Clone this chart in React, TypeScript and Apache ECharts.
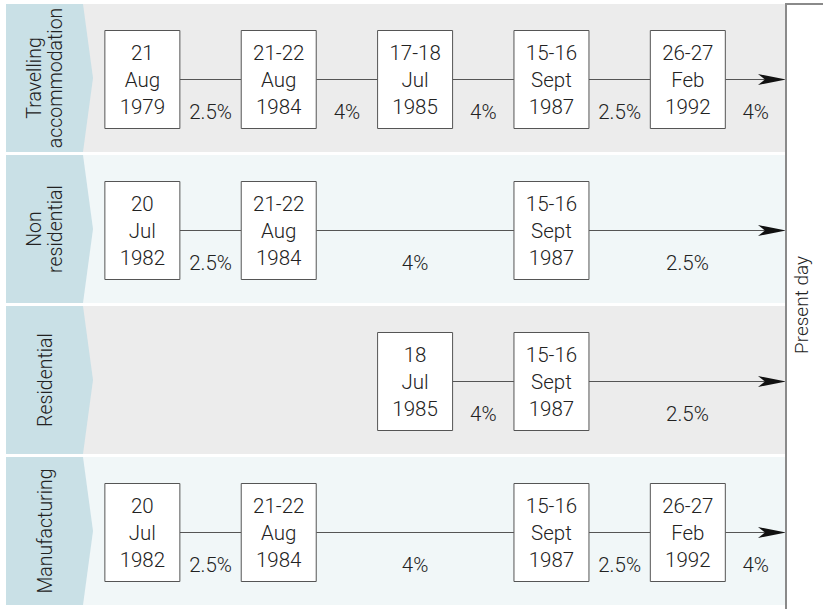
import React, { useEffect, useRef } from "react";
import * as echarts from "echarts";

const rowLabels = ["Travelling\naccommodation", "Non\nresidential", "Residential", "Manufacturing"];

const travellingCols = [0, 1, 2, 3, 4];
const travellingDates = ["21\nAug\n1979", "21-22\nAug\n1984", "17-18\nJul\n1985", "15-16\nSept\n1987", "26-27\nFeb\n1992"];
const travellingRates = ["2.5%", "4%", "4%", "2.5%", "4%"];

const nonResidentialCols = [0, 1, 3];
const nonResidentialDates = ["20\nJul\n1982", "21-22\nAug\n1984", "15-16\nSept\n1987"];
const nonResidentialRates = ["2.5%", "4%", "2.5%"];

const residentialCols = [2, 3];
const residentialDates = ["18\nJul\n1985", "15-16\nSept\n1987"];
const residentialRates = ["4%", "2.5%"];

const manufacturingCols = [0, 1, 3, 4];
const manufacturingDates = ["20\nJul\n1982", "21-22\nAug\n1984", "15-16\nSept\n1987", "26-27\nFeb\n1992"];
const manufacturingRates = ["2.5%", "4%", "2.5%", "4%"];

const presentDayLabel = "Present day";

const X_MIN = -1;
const X_MAX = 4.72;
const FONT = "Roboto, Liberation Sans, Arial, sans-serif";
const TEXT_COLOR = "#222222";

const rowsDef = [
  { cols: travellingCols, dates: travellingDates, rates: travellingRates },
  { cols: nonResidentialCols, dates: nonResidentialDates, rates: nonResidentialRates },
  { cols: residentialCols, dates: residentialDates, rates: residentialRates },
  { cols: manufacturingCols, dates: manufacturingDates, rates: manufacturingRates },
];

const boxItems: { col: number; row: number; label: string }[] = [];
const segItems: { from: number; to: number; row: number; rate: string; end: boolean }[] = [];
rowsDef.forEach((r, ri) => {
  r.cols.forEach((c, k) => {
    boxItems.push({ col: c, row: ri, label: r.dates[k] });
    const isEnd = k === r.cols.length - 1;
    segItems.push({ from: c, to: isEnd ? X_MAX : r.cols[k + 1], row: ri, rate: r.rates[k], end: isEnd });
  });
});

const BOX_W = 75;
const BOX_H = 98;

export default function App() {
  const ref = useRef<HTMLDivElement>(null);
  useEffect(() => {
    document.body.style.margin = "0";
    if (!ref.current) return;
    const chart = echarts.init(ref.current, undefined, { renderer: "svg" });
    const option: any = {
      animation: false,
      backgroundColor: "#ffffff",
      grid: { left: 6, right: 37, top: 4, bottom: 1 },
      xAxis: { type: "value", min: X_MIN, max: X_MAX, show: false },
      yAxis: { type: "value", min: 0, max: 4, inverse: true, show: false },
      series: [
        {
          type: "custom",
          silent: true,
          data: rowLabels.map((_, i) => [X_MIN, i]),
          renderItem: (params: any, api: any) => {
            const i = api.value(1);
            const top = api.coord([X_MIN, i])[1];
            const bottom = api.coord([X_MIN, i + 1])[1] - 3;
            const left = api.coord([X_MIN, i])[0];
            const right = api.coord([X_MAX, i])[0];
            const mid = (top + bottom) / 2;
            return {
              type: "group",
              children: [
                {
                  type: "rect",
                  shape: { x: left, y: top, width: right - left, height: bottom - top },
                  style: { fill: i % 2 === 0 ? "#ececec" : "#f1f7f8" },
                },
                {
                  type: "polygon",
                  shape: {
                    points: [
                      [left, top],
                      [left + 77, top],
                      [left + 87, mid],
                      [left + 77, bottom],
                      [left, bottom],
                    ],
                  },
                  style: { fill: "#c9e0e6" },
                },
                {
                  type: "text",
                  x: left + 39,
                  y: mid,
                  rotation: Math.PI / 2,
                  style: {
                    text: rowLabels[params.dataIndex],
                    fill: TEXT_COLOR,
                    font: "300 19.5px " + FONT,
                    align: "center",
                    verticalAlign: "middle",
                    lineHeight: 21,
                  },
                },
              ],
            };
          },
        },
        {
          type: "custom",
          silent: true,
          data: segItems.map((s) => [s.from, s.row, s.to]),
          renderItem: (params: any, api: any) => {
            const s = segItems[params.dataIndex];
            const p1 = api.coord([api.value(0), api.value(1) + 0.5]);
            const p2 = api.coord([api.value(2), api.value(1) + 0.5]);
            const cy = p1[1];
            const x1 = p1[0] + BOX_W / 2;
            const x2 = s.end ? p2[0] : p2[0] - BOX_W / 2;
            const children: any[] = [
              {
                type: "line",
                shape: { x1, y1: cy, x2: s.end ? x2 - 20 : x2, y2: cy },
                style: { stroke: "#555555", lineWidth: 1 },
              },
              {
                type: "text",
                x: (x1 + x2) / 2,
                y: cy + 32,
                style: {
                  text: s.rate,
                  fill: TEXT_COLOR,
                  font: "300 20.5px " + FONT,
                  align: "center",
                  verticalAlign: "middle",
                },
              },
            ];
            if (s.end) {
              children.push({
                type: "polygon",
                shape: {
                  points: [
                    [x2, cy],
                    [x2 - 28, cy - 5.5],
                    [x2 - 21, cy],
                    [x2 - 28, cy + 5.5],
                  ],
                },
                style: { fill: "#111111" },
              });
            }
            return { type: "group", children };
          },
        },
        {
          type: "custom",
          silent: true,
          data: boxItems.map((b) => [b.col, b.row]),
          renderItem: (params: any, api: any) => {
            const b = boxItems[params.dataIndex];
            const p = api.coord([api.value(0), api.value(1) + 0.5]);
            return {
              type: "group",
              children: [
                {
                  type: "rect",
                  shape: { x: p[0] - BOX_W / 2, y: p[1] - BOX_H / 2, width: BOX_W, height: BOX_H },
                  style: { fill: "#ffffff", stroke: "#555555", lineWidth: 1 },
                },
                {
                  type: "text",
                  x: p[0],
                  y: p[1],
                  style: {
                    text: b.label,
                    fill: TEXT_COLOR,
                    font: "300 20.5px " + FONT,
                    align: "center",
                    verticalAlign: "middle",
                    lineHeight: 27,
                  },
                },
              ],
            };
          },
        },
      ],
      graphic: [
        {
          type: "rect",
          shape: { x: 786, y: 4, width: 45, height: 610 },
          style: { fill: "#ffffff", stroke: "#8a8a8a", lineWidth: 2 },
          z: 10,
        },
        {
          type: "text",
          x: 801,
          y: 305,
          rotation: Math.PI / 2,
          style: {
            text: presentDayLabel,
            fill: TEXT_COLOR,
            font: "300 19px " + FONT,
            align: "center",
            verticalAlign: "middle",
          },
          z: 11,
        },
      ],
    };
    chart.setOption(option);
    return () => chart.dispose();
  }, []);
  return (
    <div
      ref={ref}
      style={{ position: "absolute", left: 0, top: 0, width: 823, height: 609 }}
    />
  );
}
